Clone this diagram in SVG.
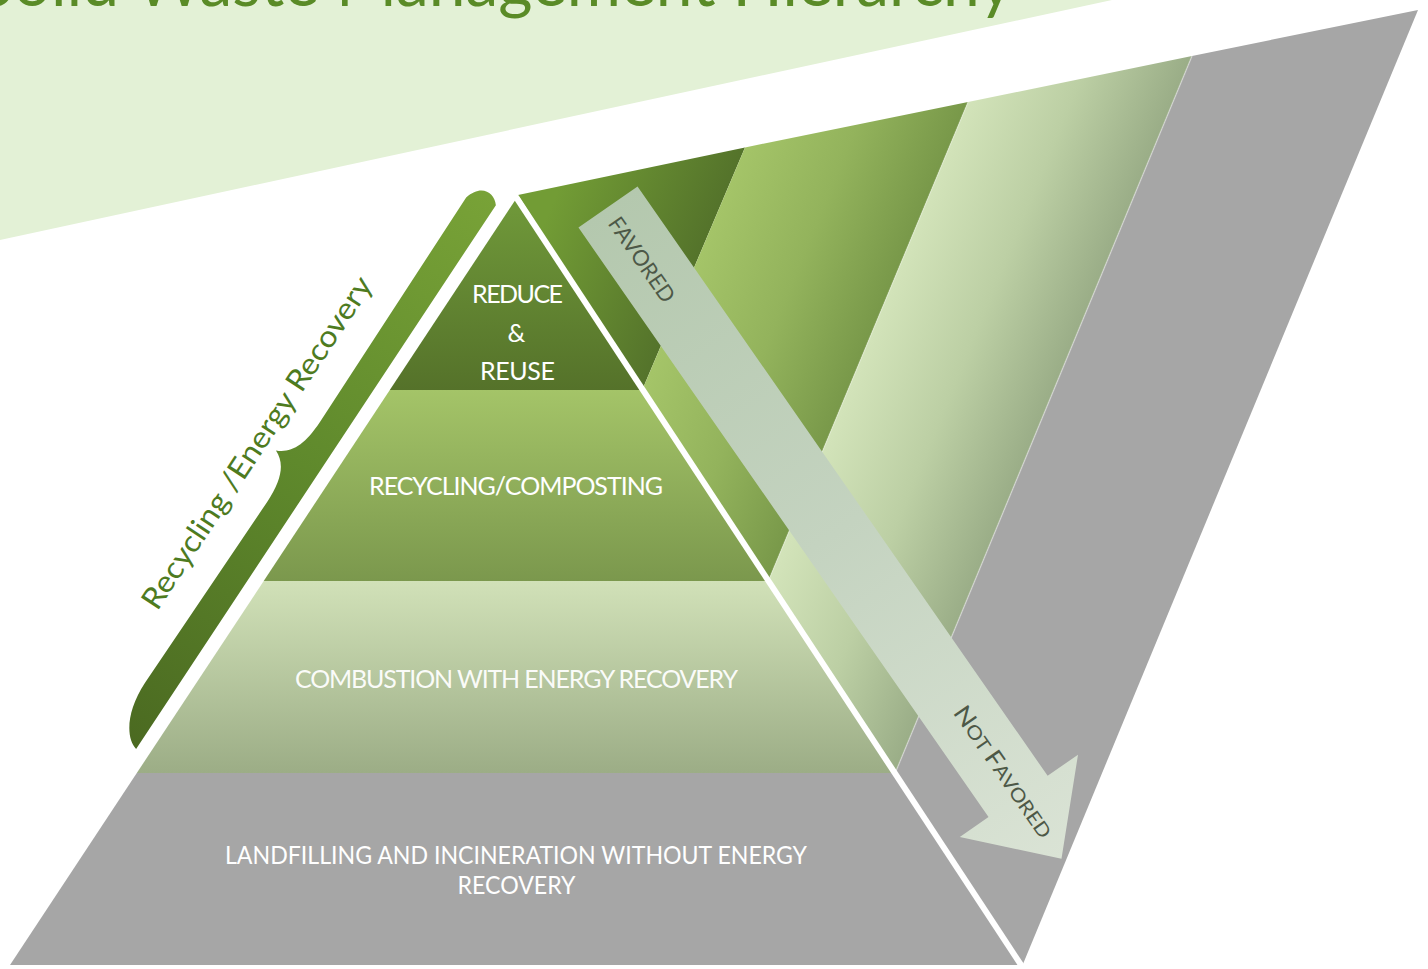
<svg xmlns="http://www.w3.org/2000/svg" width="1428" height="969" viewBox="0 0 1428 969">
<style>
.lbl{font-family:Lato,"Liberation Sans",sans-serif;font-size:25px;fill:#ffffff;text-anchor:middle}
.arr{font-family:Lato,"Liberation Sans",sans-serif;fill:#4d5847}
.edge{stroke:#ffffff;stroke-width:6;fill:none;stroke-linecap:butt}
</style>
<defs>
<linearGradient id="gReduce" x1="0" y1="0" x2="0" y2="1"><stop offset="0" stop-color="#70993a"/><stop offset="1" stop-color="#55722a"/></linearGradient>
<linearGradient id="gRecycle" x1="0" y1="0" x2="0" y2="1"><stop offset="0" stop-color="#a4c468"/><stop offset="1" stop-color="#7b984d"/></linearGradient>
<linearGradient id="gComb" x1="0" y1="0" x2="0" y2="1"><stop offset="0" stop-color="#d1e1b8"/><stop offset="1" stop-color="#9cad86"/></linearGradient>
<linearGradient id="pDark" gradientUnits="userSpaceOnUse" x1="560" y1="185" x2="715" y2="250"><stop offset="0" stop-color="#729c35"/><stop offset="1" stop-color="#52702a"/></linearGradient>
<linearGradient id="pMed" gradientUnits="userSpaceOnUse" x1="745" y1="148" x2="920" y2="220"><stop offset="0" stop-color="#a4c468"/><stop offset="0.5" stop-color="#93b35c"/><stop offset="1" stop-color="#789849"/></linearGradient>
<linearGradient id="pLight" gradientUnits="userSpaceOnUse" x1="968" y1="103" x2="1143" y2="175"><stop offset="0" stop-color="#d2e3b9"/><stop offset="0.5" stop-color="#bccfa4"/><stop offset="1" stop-color="#9aad87"/></linearGradient>
<linearGradient id="gBrace" gradientUnits="userSpaceOnUse" x1="0" y1="0" x2="656" y2="0"><stop offset="0" stop-color="#4b6a21"/><stop offset="0.5" stop-color="#5f892c"/><stop offset="1" stop-color="#78a237"/></linearGradient>
<linearGradient id="gArrow" gradientUnits="userSpaceOnUse" x1="0" y1="0" x2="794" y2="0"><stop offset="0" stop-color="#b4c8ae"/><stop offset="0.5" stop-color="#c4d3c0"/><stop offset="1" stop-color="#dae3d5"/></linearGradient>
</defs>

<g id="title">
<polygon points="0,0 1112,0 0,240" fill="#e3f1d6"/>
<text x="-22" y="6" font-family="Lato,'Liberation Sans',sans-serif" font-size="68" fill="#5a8b27" textLength="1035" lengthAdjust="spacingAndGlyphs">Solid Waste Management Hierarchy</text>
</g>

<g id="back-panels">
<polygon points="518,195 745,147.5 642.2,390" fill="url(#pDark)"/>
<polygon points="745,147.5 968,102 768.3,581 642.2,390" fill="url(#pMed)"/>
<polygon points="968,102 1192,56 895.2,773 768.3,581" fill="url(#pLight)"/>
<polygon points="1192,56 1418,10 1022.6,965 895.2,773" fill="#a6a6a6"/>
<line x1="1192" y1="56" x2="895.2" y2="773" stroke="#ffffff" stroke-opacity="0.35" stroke-width="1.5"/>
<line x1="968" y1="102" x2="768.3" y2="581" stroke="#ffffff" stroke-opacity="0.25" stroke-width="1.5"/>
</g>

<g id="layer-reduce">
<polygon points="516,199 642.2,390 389.8,390" fill="url(#gReduce)"/>
<text class="lbl" x="517.5" y="303" textLength="91">REDUCE</text>
<text class="lbl" x="516.5" y="342">&amp;</text>
<text class="lbl" x="517.5" y="380" textLength="75">REUSE</text>
</g>

<g id="layer-recycling">
<polygon points="389.8,390 642.2,390 768.3,581 263.7,581" fill="url(#gRecycle)"/>
<text class="lbl" x="516" y="495" textLength="294">RECYCLING/COMPOSTING</text>
</g>

<g id="layer-combustion">
<polygon points="263.7,581 768.3,581 895.2,773 136.8,773" fill="url(#gComb)"/>
<text class="lbl" x="516.5" y="688" textLength="443" fill-opacity="0.95">COMBUSTION WITH ENERGY RECOVERY</text>
</g>

<g id="layer-landfill">
<polygon points="136.8,773 895.2,773 1022,965 10,965" fill="#a6a6a6"/>
<text class="lbl" x="516" y="864" font-size="23" textLength="582" lengthAdjust="spacingAndGlyphs">LANDFILLING AND INCINERATION WITHOUT ENERGY</text>
<text class="lbl" x="516.5" y="894" font-size="23" textLength="118" lengthAdjust="spacingAndGlyphs">RECOVERY</text>
</g>

<line class="edge" x1="516" y1="197" x2="1023" y2="968"/>

<g id="brace" transform="translate(136.1,748.9) rotate(-56.51)">
<path d="M0,0 L652,0 C662,-8 662,-24 642,-29 L374,-27 C346,-27 332,-34 326,-48 C320,-34 306,-27 278,-27 L60,-29 C25,-29 3,-14 0,0 Z" fill="url(#gBrace)"/>
<text x="126" y="-58" font-family="Lato,'Liberation Sans',sans-serif" font-size="30" fill="#4e7b1f" textLength="392" lengthAdjust="spacingAndGlyphs">Recycling /Energy Recovery</text>
</g>

<g id="connectors">
<g id="favored-arrow" transform="translate(608,207) rotate(55.17)">
<polygon points="0,-36 718,-36 718,-73 794,0 718,71 718,36 0,36" fill="url(#gArrow)"/>
<text class="arr" x="13" y="10" font-size="22" textLength="99" lengthAdjust="spacingAndGlyphs">FAVORED</text>
<text class="arr" x="612" y="6" font-size="19" textLength="155" lengthAdjust="spacingAndGlyphs"><tspan font-size="24">N</tspan>OT <tspan font-size="24">F</tspan>AVORED</text>
</g>
</g>
</svg>
